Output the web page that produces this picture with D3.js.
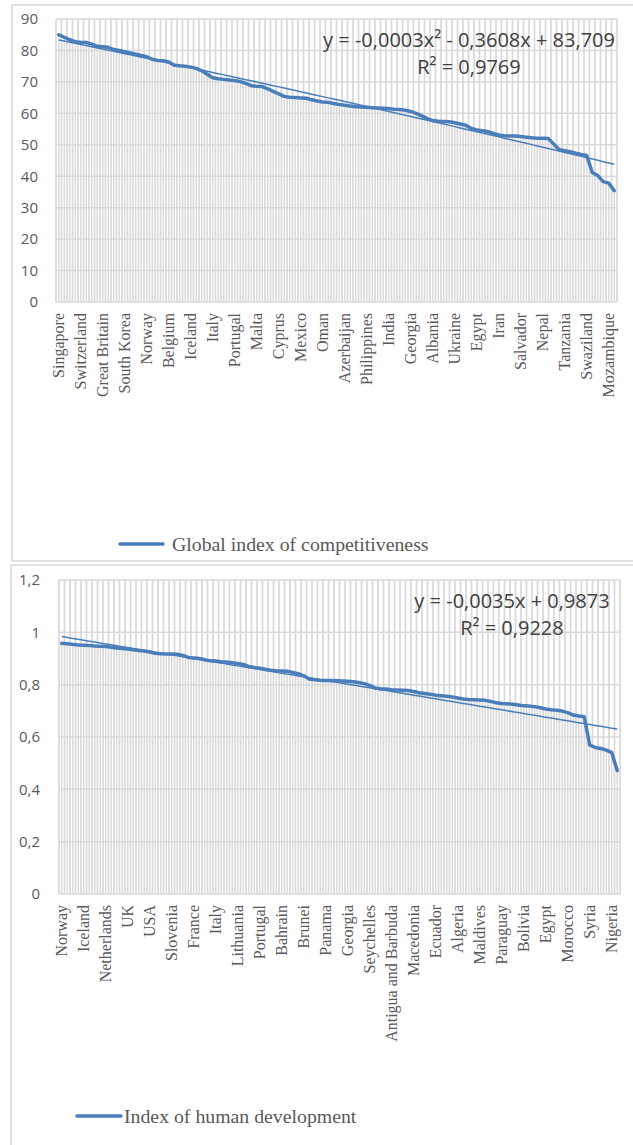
<!DOCTYPE html>
<html>
<head>
<meta charset="utf-8">
<script src="https://cdn.jsdelivr.net/npm/d3@7"></script>
<style>
body { margin: 0; background: #fff; }
</style>
</head>
<body>
<svg id="chart" width="633" height="1145"></svg>
<script>
(function () {
"use strict";

// Global index of competitiveness, countries sorted by score
var gciValues = [
	85.0, 84.2, 83.4, 82.8, 82.6, 82.5, 82.0, 81.3, 81.2, 81.0,
	80.3, 80.0, 79.6, 79.2, 78.8, 78.4, 78.0, 77.2, 76.8, 76.7,
	76.3, 75.3, 75.1, 75.0, 74.7, 74.3, 73.5, 72.4, 71.3, 71.0,
	70.8, 70.6, 70.4, 70.1, 69.5, 68.8, 68.6, 68.5, 67.8, 67.0,
	66.2, 65.4, 65.1, 65.0, 64.9, 64.8, 64.3, 63.9, 63.6, 63.5,
	63.1, 62.8, 62.6, 62.3, 62.1, 62.0, 61.9, 61.8, 61.7, 61.6,
	61.5, 61.3, 61.2, 61.0, 60.6, 60.0, 59.2, 58.3, 57.7, 57.5,
	57.4, 57.3, 57.0, 56.6, 56.2, 55.2, 54.7, 54.5, 54.2, 53.6,
	53.1, 52.9, 52.8, 52.8, 52.6, 52.4, 52.2, 52.1, 52.1, 52.0,
	50.2, 48.4, 48.1, 47.8, 47.3, 46.9, 46.6, 41.2, 40.2, 38.3,
	37.8, 35.4
];
// every 4th country is labelled
var gciLabels = ["Singapore", "Switzerland", "Great Britain", "South Korea", "Norway",
	"Belgium", "Iceland", "Italy", "Portugal", "Malta", "Cyprus", "Mexico", "Oman",
	"Azerbaijan", "Philippines", "India", "Georgia", "Albania", "Ukraine", "Egypt",
	"Iran", "Salvador", "Nepal", "Tanzania", "Swaziland", "Mozambique"];
var gciTicks = [0, 10, 20, 30, 40, 50, 60, 70, 80, 90];
var gciTrend = [-0.0003, -0.3608, 83.709]; // a*x^2 + b*x + c
var gciEquation = ["y = -0,0003x² - 0,3608x + 83,709", "R² = 0,9769"];
var gciLegend = "Global index of competitiveness";

// Index of human development
var hdiValues = [
	0.958, 0.956, 0.954, 0.952, 0.951, 0.950, 0.948, 0.947, 0.946, 0.943,
	0.940, 0.938, 0.936, 0.933, 0.931, 0.929, 0.925, 0.920, 0.918, 0.917,
	0.917, 0.916, 0.912, 0.904, 0.902, 0.900, 0.895, 0.891, 0.890, 0.888,
	0.887, 0.884, 0.881, 0.877, 0.870, 0.866, 0.863, 0.859, 0.855, 0.853,
	0.852, 0.851, 0.847, 0.842, 0.834, 0.822, 0.819, 0.817, 0.816, 0.816,
	0.815, 0.814, 0.813, 0.811, 0.808, 0.804, 0.797, 0.787, 0.784, 0.783,
	0.781, 0.780, 0.779, 0.778, 0.774, 0.769, 0.766, 0.763, 0.760, 0.758,
	0.756, 0.753, 0.749, 0.745, 0.743, 0.742, 0.741, 0.740, 0.736, 0.731,
	0.728, 0.727, 0.725, 0.722, 0.719, 0.718, 0.716, 0.712, 0.707, 0.704,
	0.702, 0.699, 0.693, 0.684, 0.680, 0.677, 0.569, 0.560, 0.556, 0.550,
	0.540, 0.472
];
var hdiLabels = ["Norway", "Iceland", "Netherlands", "UK", "USA", "Slovenia", "France",
	"Italy", "Lithuania", "Portugal", "Bahrain", "Brunei", "Panama", "Georgia",
	"Seychelles", "Antigua and Barbuda", "Macedonia", "Ecuador", "Algeria", "Maldives",
	"Paraguay", "Bolivia", "Egypt", "Morocco", "Syria", "Nigeria"];
var hdiTicks = [0, 0.2, 0.4, 0.6, 0.8, 1, 1.2];
var hdiTrend = [0, -0.0035, 0.9873];
var hdiEquation = ["y = -0,0035x + 0,9873", "R² = 0,9228"];
var hdiLegend = "Index of human development";

var blue = "#4a7ebb",
	grid = "#d9d9d9",
	textCol = "#595959";

var comma = d3.formatLocale({decimal: ",", thousands: " ", grouping: [3], currency: ["", ""]}).format("~g");

var svg = d3.select("#chart");

function drawChart(o) {
	var g = svg.append("g");

	// chart frame
	g.append("rect")
		.attr("x", o.frame[0]).attr("y", o.frame[1])
		.attr("width", o.frame[2]).attr("height", o.frame[3])
		.attr("fill", "none").attr("stroke", grid).attr("stroke-width", 1.5);

	var x = d3.scaleBand().domain(d3.range(o.values.length)).range([o.left, o.right]).padding(0);
	var y = d3.scaleLinear().domain([0, o.max]).range([o.bottom, o.top]);
	var bw = x.bandwidth();
	var cx = function (i) { return x(i) + bw / 2; };

	// vertical gridlines at category boundaries
	g.append("g").selectAll("line")
		.data(d3.range(o.values.length + 1))
		.enter().append("line")
			.attr("x1", function (i) { return o.left + i * bw; })
			.attr("x2", function (i) { return o.left + i * bw; })
			.attr("y1", o.top).attr("y2", o.bottom)
			.attr("stroke", grid).attr("stroke-width", 1.7);

	// drop lines
	g.append("g").selectAll("line")
		.data(o.values)
		.enter().append("line")
			.attr("x1", function (d, i) { return cx(i); })
			.attr("x2", function (d, i) { return cx(i); })
			.attr("y1", function (d) { return y(d); })
			.attr("y2", o.bottom)
			.attr("stroke", grid).attr("stroke-width", 1.4);

	// horizontal gridlines
	g.append("g").selectAll("line")
		.data(o.ticks)
		.enter().append("line")
			.attr("x1", o.left).attr("x2", o.right)
			.attr("y1", function (d) { return y(d); })
			.attr("y2", function (d) { return y(d); })
			.attr("stroke", grid).attr("stroke-width", 1.5);

	// y axis
	var ya = g.append("g")
		.attr("transform", "translate(" + o.left + ",0)")
		.call(d3.axisLeft(y).tickValues(o.ticks).tickSize(0).tickPadding(o.left - o.yLabelX).tickFormat(comma));
	ya.select(".domain").remove();
	ya.selectAll("text")
		.style("font-family", "'Open Sans', sans-serif")
		.style("font-size", "15px")
		.attr("fill", textCol);

	// x axis
	var xa = g.append("g")
		.attr("transform", "translate(0," + o.bottom + ")")
		.call(d3.axisBottom(x)
			.tickValues(d3.range(0, o.values.length, 4))
			.tickSize(0)
			.tickFormat(function (i) { return o.labels[i / 4]; }));
	xa.select(".domain").remove();
	xa.selectAll("text")
		.attr("transform", "rotate(-90)")
		.attr("x", -11).attr("y", 0).attr("dy", "0.35em")
		.attr("text-anchor", "end")
		.style("font-family", "'Liberation Serif', 'Times New Roman', serif")
		.style("font-size", "16px")
		.attr("fill", textCol);

	// trend line
	var trend = o.values.map(function (d, i) {
		var t = i + 1;
		return o.trend[0] * t * t + o.trend[1] * t + o.trend[2];
	});

	var line = d3.line()
		.x(function (d, i) { return cx(i); })
		.y(function (d) { return y(d); });

	g.append("path")
		.datum(o.values)
		.attr("d", line)
		.attr("fill", "none").attr("stroke", blue)
		.attr("stroke-width", 3.5)
		.attr("stroke-linejoin", "round").attr("stroke-linecap", "round");

	g.append("path")
		.datum(trend)
		.attr("d", line)
		.attr("fill", "none").attr("stroke", blue)
		.attr("stroke-width", 1.5);

	// equation
	g.append("g").selectAll("text")
		.data(o.equation)
		.enter().append("text")
			.attr("x", o.eqX)
			.attr("y", function (d, i) { return o.eqY + i * 27; })
			.attr("text-anchor", "middle")
			.style("font-family", "'Open Sans', sans-serif")
			.style("font-size", "20px")
			.attr("fill", "#404040")
			.text(function (d) { return d; });

	// legend
	g.append("line")
		.attr("x1", o.legend[0]).attr("x2", o.legend[1])
		.attr("y1", o.legend[3]).attr("y2", o.legend[3])
		.attr("stroke", blue).attr("stroke-width", 3.5).attr("stroke-linecap", "round");
	g.append("text")
		.attr("x", o.legend[2]).attr("y", o.legend[3] + 7)
		.style("font-family", "'Liberation Serif', 'Times New Roman', serif")
		.style("font-size", "19.8px")
		.attr("fill", textCol)
		.text(o.legendText);
}

drawChart({
	values: gciValues, labels: gciLabels, ticks: gciTicks, max: 90,
	trend: gciTrend, equation: gciEquation, legendText: gciLegend,
	frame: [12, 5, 640, 556],
	left: 56, right: 617, top: 19, bottom: 302, yLabelX: 38,
	eqX: 469, eqY: 47, legend: [120, 163, 172, 544]
});

drawChart({
	values: hdiValues, labels: hdiLabels, ticks: hdiTicks, max: 1.2,
	trend: hdiTrend, equation: hdiEquation, legendText: hdiLegend,
	frame: [11, 565, 640, 600],
	left: 59, right: 620, top: 580, bottom: 894, yLabelX: 40,
	eqX: 512, eqY: 608, legend: [77, 121, 124, 1116]
});

})();
</script>
</body>
</html>
